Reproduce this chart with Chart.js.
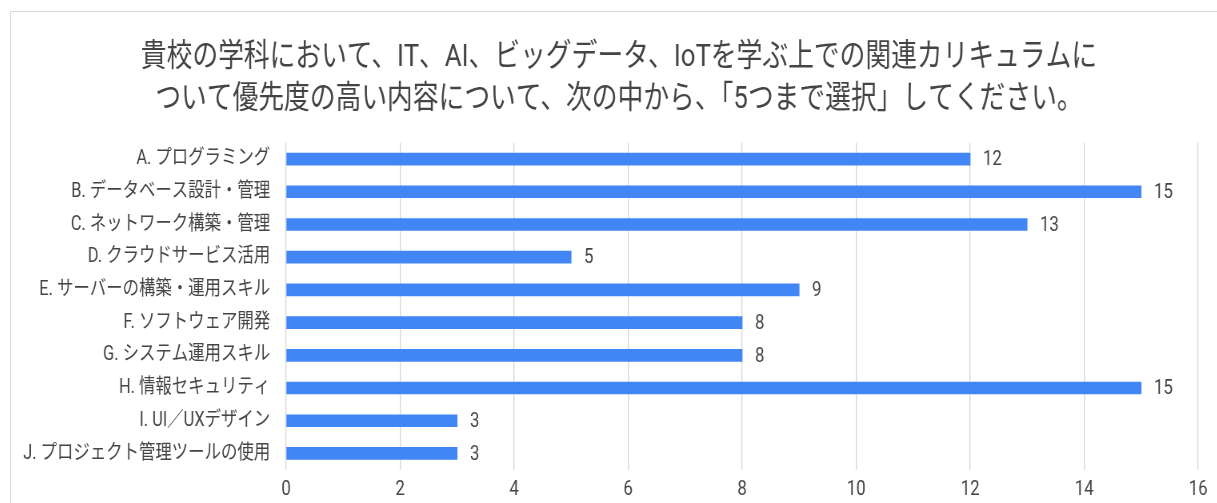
<!DOCTYPE html>
<html lang="ja">
<head>
<meta charset="utf-8">
<script src="https://cdn.jsdelivr.net/npm/chart.js@4.4.1/dist/chart.umd.min.js"></script>
<style>
  html, body { margin: 0; padding: 0; background: #fff; overflow: hidden; }
  .frame {
    position: absolute; left: 10px; top: 11px;
    width: 1216px; height: 497px; overflow: hidden;
    border: 1px solid #d9d9d9; background: #fff;
  }
  /* narrow lettering: the chart is laid out wide and squeezed horizontally */
  #chart { display: block; transform: scaleX(0.8); transform-origin: 0 0; }
</style>
</head>
<body>
<div class="frame"><canvas id="chart" width="1520" height="497"></canvas></div>
<script>
const FONT = "Roboto, 'Noto Sans CJK JP', sans-serif";
const BAR_BLUE = "#4285f4";
const TEXT = "#444444";

const titleLines = [
    "貴校の学科において、IT、AI、ビッグデータ、IoTを学ぶ上での関連カリキュラムに",
    "ついて優先度の高い内容について、次の中から、「5つまで選択」してください。",
];
const categories = [
    "A. プログラミング",
    "B. データベース設計・管理",
    "C. ネットワーク構築・管理",
    "D. クラウドサービス活用",
    "E. サーバーの構築・運用スキル",
    "F. ソフトウェア開発",
    "G. システム運用スキル",
    "H. 情報セキュリティ",
    "I. UI／UXデザイン",
    "J. プロジェクト管理ツールの使用",
];
const counts = [12, 15, 13, 5, 9, 8, 8, 15, 3, 3];
const xMax = 16;
const xStep = 2;

// value labels just past the end of each bar
const barValueLabels = {
    id: "barValueLabels",
    afterDatasetsDraw(chart) {
        const ctx = chart.ctx;
        const meta = chart.getDatasetMeta(0);
        ctx.save();
        ctx.font = "21px " + FONT;
        ctx.fillStyle = TEXT;
        ctx.textAlign = "left";
        ctx.textBaseline = "middle";
        meta.data.forEach((bar, i) => {
            ctx.fillText(String(counts[i]), bar.x + 16, bar.y + 1);
        });
        ctx.restore();
    },
};

new Chart(document.getElementById("chart"), {
    type: "bar",
    data: {
        labels: categories,
        datasets: [{
            data: counts,
            backgroundColor: BAR_BLUE,
            borderWidth: 0,
            barThickness: 12,
        }],
    },
    options: {
        indexAxis: "y",
        responsive: false,
        animation: false,
        layout: { padding: 0 },
        plugins: {
            legend: { display: false },
            tooltip: { enabled: false },
            title: {
                display: true,
                text: titleLines,
                color: TEXT,
                font: { family: FONT, size: 32.2, weight: "normal", lineHeight: 1.3 },
                padding: { top: 25, bottom: 22 },
            },
        },
        scales: {
            x: {
                min: 0,
                max: xMax,
                ticks: {
                    stepSize: xStep,
                    color: TEXT,
                    padding: 7,
                    font: { family: FONT, size: 21 },
                },
                grid: { color: "#d4d4d4", lineWidth: 1.25, drawTicks: false },
                border: { display: false },
            },
            y: {
                ticks: {
                    color: TEXT,
                    padding: 20,
                    font: { family: FONT, size: 20.5 },
                },
                grid: { display: false, drawTicks: false },
                border: { display: false },
                afterFit(scale) { scale.width = 344; },
            },
            // empty right-hand gutter so the last value label has room
            gutter: {
                axis: "y",
                position: "right",
                ticks: { display: false },
                grid: { display: false, drawTicks: false },
                border: { display: false },
                afterFit(scale) { scale.width = 36; },
            },
        },
    },
    plugins: [barValueLabels],
});
</script>
</body>
</html>
